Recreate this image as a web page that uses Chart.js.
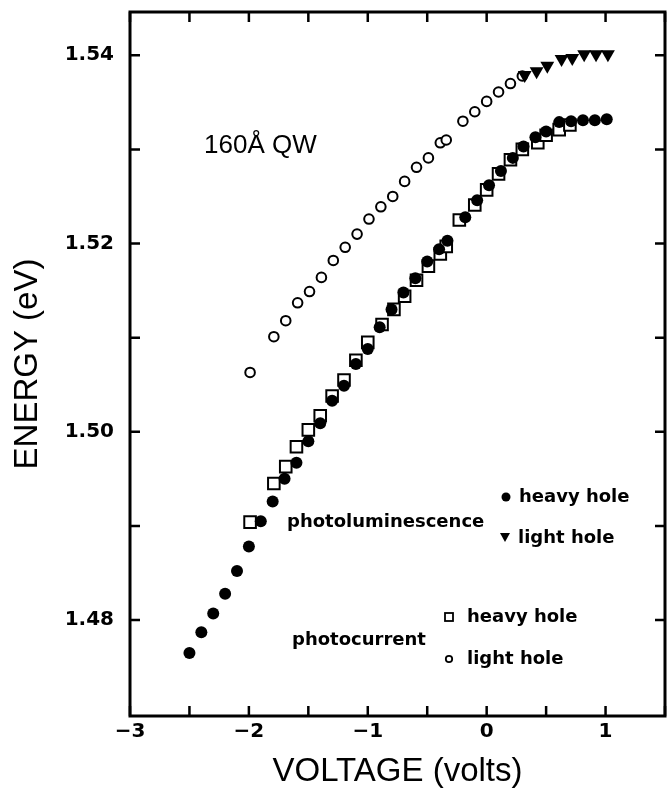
<!DOCTYPE html>
<html>
<head>
<meta charset="utf-8">
<script src="https://cdn.jsdelivr.net/npm/chart.js@4/dist/chart.umd.min.js"></script>
<style>
  html, body { margin: 0; padding: 0; background: #fff; }
  #wrap { width: 667px; height: 794px; }
</style>
</head>
<body>
<div id="wrap"><canvas id="energyChart" width="667" height="794"></canvas></div>
<script>
// photoluminescence, heavy hole (filled circles)
const plHeavyV = [-2.5,-2.4,-2.3,-2.2,-2.1,-2.0,-1.9,-1.8,-1.7,-1.6,-1.5,-1.4,-1.3,-1.2,-1.1,-1.0,-0.9,-0.8,-0.7,-0.6,-0.5,-0.4,-0.33,-0.18,-0.08,0.02,0.12,0.22,0.31,0.41,0.5,0.61,0.71,0.81,0.91,1.01];
const plHeavyE = [1.4765,1.4787,1.4807,1.4828,1.4852,1.4878,1.4905,1.4926,1.4950,1.4967,1.4990,1.5009,1.5033,1.5049,1.5072,1.5088,1.5111,1.5130,1.5148,1.5163,1.5181,1.5194,1.5203,1.5228,1.5246,1.5262,1.5277,1.5291,1.5303,1.5313,1.5319,1.5329,1.5330,1.5331,1.5331,1.5332];
// photoluminescence, light hole (filled triangles)
const plLightV = [0.32,0.42,0.51,0.63,0.72,0.82,0.92,1.02];
const plLightE = [1.5379,1.5383,1.5389,1.5396,1.5397,1.5401,1.5401,1.5401];
// photocurrent, heavy hole (open squares)
const pcHeavyV = [-1.99,-1.79,-1.69,-1.6,-1.5,-1.4,-1.3,-1.2,-1.1,-1.0,-0.88,-0.78,-0.69,-0.59,-0.49,-0.39,-0.34,-0.23,-0.1,0.0,0.1,0.2,0.3,0.43,0.5,0.61,0.7];
const pcHeavyE = [1.4904,1.4945,1.4963,1.4984,1.5002,1.5017,1.5038,1.5055,1.5076,1.5095,1.5114,1.5130,1.5144,1.5161,1.5176,1.5189,1.5197,1.5225,1.5241,1.5257,1.5274,1.5289,1.5300,1.5307,1.5315,1.5321,1.5326];
// photocurrent, light hole (open circles)
const pcLightV = [-1.99,-1.79,-1.69,-1.59,-1.49,-1.39,-1.29,-1.19,-1.09,-0.99,-0.89,-0.79,-0.69,-0.59,-0.49,-0.39,-0.34,-0.2,-0.1,0.0,0.1,0.2,0.3];
const pcLightE = [1.5063,1.5101,1.5118,1.5137,1.5149,1.5164,1.5182,1.5196,1.5210,1.5226,1.5239,1.5250,1.5266,1.5281,1.5291,1.5307,1.5310,1.5330,1.5340,1.5351,1.5361,1.5370,1.5378];

const toPts = (xs, ys) => xs.map((x, i) => ({ x: x, y: ys[i] }));

// inward ticks, frame and the in-plot labels
const framePlugin = {
  id: 'frame',
  afterDraw(chart) {
    const ctx = chart.ctx;
    const a = chart.chartArea;
    const xs = chart.scales.x, ys = chart.scales.y;
    ctx.save();
    ctx.strokeStyle = '#000';
    ctx.lineWidth = 2.5;
    ctx.beginPath();
    xs.ticks.forEach(t => {
      if (Math.abs(t.value * 2 - Math.round(t.value * 2)) > 1e-6) return;
      const px = xs.getPixelForValue(t.value);
      ctx.moveTo(px, a.bottom); ctx.lineTo(px, a.bottom - 10);
      ctx.moveTo(px, a.top); ctx.lineTo(px, a.top + 10);
    });
    ys.ticks.forEach(t => {
      if (Math.abs(t.value * 100 - Math.round(t.value * 100)) > 1e-6) return;
      const py = ys.getPixelForValue(t.value);
      ctx.moveTo(a.left, py); ctx.lineTo(a.left + 10, py);
      ctx.moveTo(a.right, py); ctx.lineTo(a.right - 10, py);
    });
    ctx.stroke();
    ctx.lineWidth = 3;
    ctx.strokeRect(a.left, a.top, a.right - a.left, a.bottom - a.top);

    ctx.fillStyle = '#000';
    ctx.textBaseline = 'middle';
    ctx.textAlign = 'left';
    ctx.font = '26px "Liberation Sans", Arial, sans-serif';
    ctx.fillText('160Å QW', 204, 146);

    ctx.font = 'bold 18px "DejaVu Sans", sans-serif';
    ctx.fillText('photoluminescence', 287, 522);
    ctx.fillText('heavy hole', 519, 497);
    ctx.fillText('light hole', 518, 538);
    ctx.fillText('photocurrent', 292, 640);
    ctx.fillText('heavy hole', 467, 617);
    ctx.fillText('light hole', 467, 659);

    // legend symbols
    ctx.beginPath();
    ctx.arc(506, 497, 4.5, 0, Math.PI * 2);
    ctx.fill();
    ctx.beginPath();
    ctx.moveTo(500, 533); ctx.lineTo(510, 533); ctx.lineTo(505, 542);
    ctx.closePath();
    ctx.fill();
    ctx.lineWidth = 1.8;
    ctx.strokeRect(445, 613, 8, 8);
    ctx.beginPath();
    ctx.arc(449, 659, 3.2, 0, Math.PI * 2);
    ctx.stroke();
    ctx.restore();
  }
};

new Chart('energyChart', {
  type: 'scatter',
  data: {
    datasets: [
      {
        label: 'photoluminescence heavy hole',
        data: toPts(plHeavyV, plHeavyE),
        pointStyle: 'circle',
        pointRadius: 6,
        backgroundColor: '#000',
        borderColor: '#000',
        borderWidth: 0
      },
      {
        label: 'photoluminescence light hole',
        data: toPts(plLightV, plLightE),
        pointStyle: 'triangle',
        rotation: 180,
        pointRadius: 8,
        backgroundColor: '#000',
        borderColor: '#000',
        borderWidth: 0
      },
      {
        label: 'photocurrent heavy hole',
        data: toPts(pcHeavyV, pcHeavyE),
        pointStyle: 'rect',
        pointRadius: 8.2,
        backgroundColor: '#fff',
        borderColor: '#000',
        borderWidth: 2
      },
      {
        label: 'photocurrent light hole',
        data: toPts(pcLightV, pcLightE),
        pointStyle: 'circle',
        pointRadius: 4.8,
        backgroundColor: '#fff',
        borderColor: '#000',
        borderWidth: 2
      }
    ]
  },
  options: {
    responsive: false,
    animation: false,
    layout: { autoPadding: false, padding: { top: 12, right: 2, left: 0, bottom: 0 } },
    plugins: { legend: { display: false }, tooltip: { enabled: false } },
    scales: {
      x: {
        type: 'linear',
        min: -3,
        max: 1.5,
        afterFit: s => { s.height = 78; s.paddingLeft = 0; s.paddingRight = 0; },
        grid: { display: false, drawTicks: false },
        border: { display: false },
        ticks: {
          stepSize: 0.5,
          autoSkip: false,
          maxRotation: 0,
          padding: 4,
          color: '#000',
          font: { family: '"DejaVu Sans", sans-serif', size: 20, weight: 'bold' },
          callback: v => Number.isInteger(v) ? (v < 0 ? '\u2212' + (-v) : String(v)) : ''
        },
        title: {
          display: true,
          text: 'VOLTAGE (volts)',
          color: '#000',
          padding: { top: 0, bottom: 2 },
          font: { family: '"Liberation Sans", Arial, sans-serif', size: 33 }
        }
      },
      y: {
        type: 'linear',
        min: 1.4698,
        max: 1.5446,
        afterFit: s => { s.width = 130; s.paddingTop = 0; s.paddingBottom = 0; },
        grid: { display: false, drawTicks: false },
        border: { display: false },
        ticks: {
          stepSize: 0.01,
          autoSkip: false,
          padding: 16,
          color: '#000',
          font: { family: '"DejaVu Sans", sans-serif', size: 20, weight: 'bold' },
          callback: v => {
            const r = Math.round(v * 100);
            if (Math.abs(v * 100 - r) > 1e-6 || r % 2 !== 0) return '';
            return v.toFixed(2);
          }
        },
        title: {
          display: true,
          text: 'ENERGY (eV)',
          color: '#000',
          padding: { top: 8, bottom: 0 },
          font: { family: '"Liberation Sans", Arial, sans-serif', size: 33 }
        }
      }
    }
  },
  plugins: [framePlugin]
});
</script>
</body>
</html>
